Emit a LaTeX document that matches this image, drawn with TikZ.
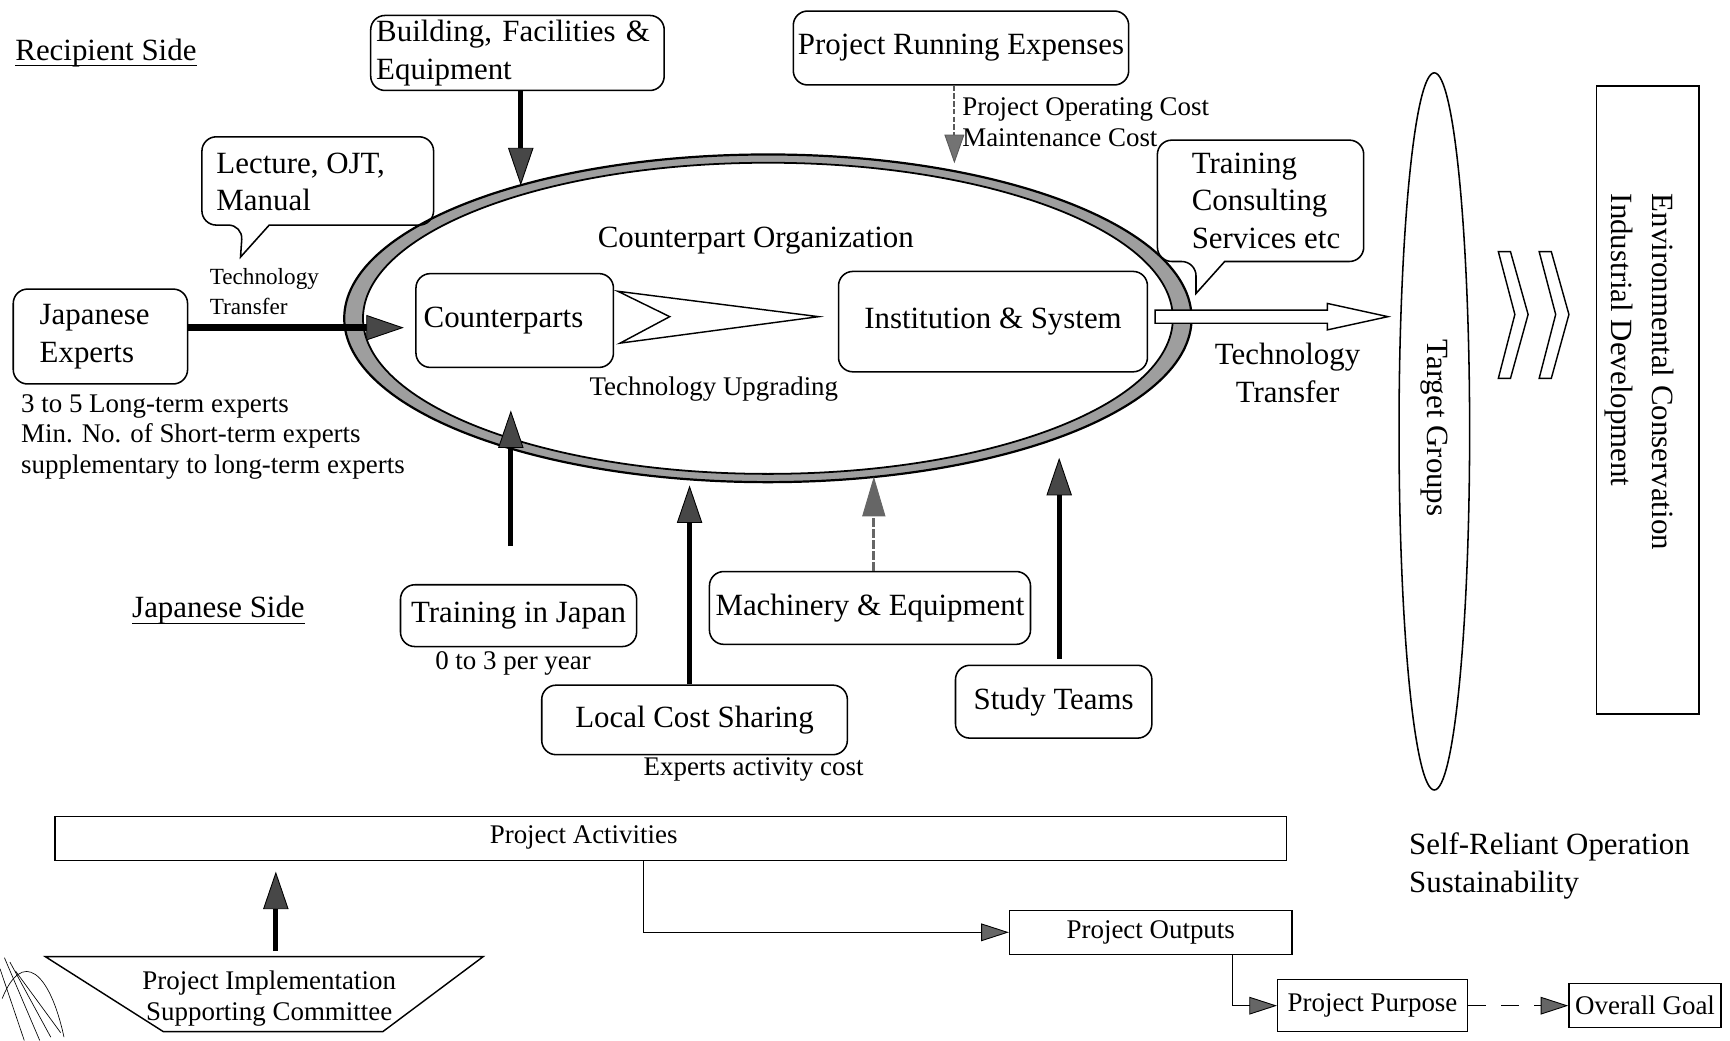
\documentclass[tikz,border=0pt]{standalone}
\usepackage{fontspec}
\setmainfont{Liberation Serif}
\usetikzlibrary{arrows.meta,shapes.geometric,calc}

\tikzset{
  big/.style={font=\fontsize{28}{34}\selectfont},
  small/.style={font=\fontsize{24.4}{28}\selectfont},
  tiny/.style={font=\fontsize{21}{27}\selectfont},
  txt/.style={inner sep=0pt},
  rbox/.style={draw, line width=1.4pt, rounded corners=13pt, inner sep=0pt, big},
  sqbox/.style={draw, line width=1.3pt, inner sep=0pt, small},
  headbig/.style={-{Triangle[length=34pt,width=23pt,line width=0.8pt,fill=black!72]}},
  thickarrow/.style={line width=4.5pt, headbig},
  smallhead/.style={-{Triangle[length=25pt,width=16pt,line width=0.8pt,fill=black!60]}},
  thinlink/.style={line width=1.2pt, smallhead},
  outline/.style={line width=1.4pt},
}

\begin{document}
\begin{tikzpicture}[x=1pt,y=-1pt]
\useasboundingbox (0,0) rectangle (1568,943);
\fill[white] (0,0) rectangle (1568,943);

% ---------- counterpart organization ring ----------
\fill[black!38, even odd rule]
  (696,288.5) ellipse [x radius=384pt, y radius=148.5pt]
  (696,288.5) ellipse [x radius=367pt, y radius=141pt];
\draw[line width=2pt] (696,288.5) ellipse [x radius=384pt, y radius=148.5pt];
\draw[line width=1.6pt] (696,288.5) ellipse [x radius=367pt, y radius=141pt];
\node[big, txt] (orgt) at (685,218) {Counterpart Organization};

% ---------- side headings ----------
\node[big, txt] (rs) at (96,48) {Recipient Side};
\draw[line width=1pt] ([yshift=-5pt]rs.base west) -- ([yshift=-5pt]rs.base east);
\node[big, txt] (js) at (198,553) {Japanese Side};
\draw[line width=1pt] ([yshift=-5pt]js.base west) -- ([yshift=-5pt]js.base east);

% ---------- recipient inputs ----------
\node[rbox, minimum width=266pt, minimum height=68pt, text width=256pt, align=left]
  (bfe) at (469,48) {Building, Facilities \&\\Equipment};
\coordinate (bfeT) at (472,168);
\draw[thickarrow] (bfe.south -| bfeT) -- (bfeT);

\node[rbox, minimum width=304pt, minimum height=67pt] (pre) at (871,43.5) {Project Running Expenses};
\coordinate (preT) at (865,148);
\draw[line width=1.8pt, black!65, dash pattern=on 5pt off 2pt,
  -{Triangle[length=26pt,width=18pt,line width=0.8pt,fill=black!55]}]
  (pre.south -| preT) -- (preT);
\node[small, txt, anchor=west, align=left] (poc) at (872,111) {Project Operating Cost\\Maintenance Cost};

% ---------- lecture callout ----------
\node[big, txt, align=left, anchor=west] (lec) at (196,165) {Lecture, OJT,\\Manual};
\draw[outline] (218,233) -- (244,204) [rounded corners=13pt] -- (393,204) -- (393,124)
  -- (183,124) -- (183,204) -- (220,204) [sharp corners] -- cycle;
\node[tiny, txt, align=left, anchor=west] (tt1) at (190,264) {Technology\\Transfer};

% ---------- japanese experts ----------
\node[rbox, minimum width=158pt, minimum height=86pt, text width=110pt, align=left] (je) at (91,305) {Japanese\\Experts};
\coordinate (jeT) at (366,297);
\draw[line width=6pt, headbig] (je.east |- jeT) -- (jeT);
\node[small, txt, align=left, anchor=west] (notes) at (19,396)
  {3 to 5 Long-term experts\\Min. No. of Short-term experts\\supplementary to long-term experts};

% ---------- inside the organization ----------
\node[rbox, minimum width=179pt, minimum height=85pt, text width=165pt, align=left]
  (cp) at (466.5,290.5) {Counterparts};
\node[rbox, minimum width=280pt, minimum height=91pt] (is) at (900,291.5) {Institution \& System};
\draw[line width=1.3pt, fill=white] (560,264) -- (742,287) -- (562,311) -- (607,287) -- cycle;
\node[small, txt] (upg) at (647,353) {Technology Upgrading};

% ---------- transfer to target groups ----------
\draw[line width=1.3pt, fill=white] (1047,281) -- (1203,281) -- (1203,275) -- (1258,287)
  -- (1203,299) -- (1203,293) -- (1047,293) -- cycle;
\node[big, txt, align=center] (tt2) at (1167,338) {Technology\\Transfer};

\node[big, txt, align=left, anchor=west] (tcs) at (1080,182) {Training\\Consulting\\Services etc};
\draw[outline] (1084,266) -- (1110,237) [rounded corners=13pt] -- (1236,237) -- (1236,127)
  -- (1049,127) -- (1049,237) -- (1084,237) [sharp corners] -- cycle;

\node[draw, ellipse, outline, minimum width=64pt, minimum height=650pt, inner sep=0pt] (tg) at (1300,391) {};
\node[big, txt, rotate=-90] (tgt) at (1300,388) {Target Groups};

\foreach \dx in {0,37}
  \draw[line width=1.3pt] ({1358+\dx},228) -- ({1369+\dx},228) -- ({1385+\dx},285)
    -- ({1369+\dx},343) -- ({1358+\dx},343) -- ({1373+\dx},285) -- cycle;

\node[draw, outline, minimum width=93pt, minimum height=569pt, inner sep=0pt] (env) at (1493.5,362.5) {};
\node[font=\fontsize{28}{37}\selectfont, txt, rotate=-90, align=left] (envt) at (1486,337)
  {Environmental Conservation\\Industrial Development};

% ---------- japanese inputs ----------
\node[rbox, minimum width=214pt, minimum height=56pt] (tij) at (470,558) {Training in Japan};
\node[small, txt] (tijn) at (465,601) {0 to 3 per year};
\coordinate (tijS) at (463,495);
\coordinate (tijT) at (463,372);
\draw[thickarrow] (tijS) -- (tijT);

\node[rbox, minimum width=291pt, minimum height=66pt] (mach) at (788.5,551) {Machinery \& Equipment};
\coordinate (machT) at (792,432);
\draw[line width=2.6pt, black!60, dash pattern=on 8pt off 2pt,
  -{Triangle[length=36pt,width=21pt,line width=0.8pt,fill=black!60]}]
  (mach.north -| machT) -- (machT);

\node[rbox, minimum width=277pt, minimum height=63pt] (lcs) at (629.5,652.5) {Local Cost Sharing};
\node[small, txt] (lcsn) at (683,697) {Experts activity cost};
\coordinate (lcsT) at (625,440);
\draw[thickarrow] (lcs.north -| lcsT) -- (lcsT);

\node[rbox, minimum width=178pt, minimum height=66pt] (st) at (955,636) {Study Teams};
\coordinate (stS) at (960,597);
\coordinate (stT) at (960,415);
\draw[thickarrow] (stS) -- (stT);

% ---------- project chain ----------
\node[sqbox, minimum width=1116pt, minimum height=40pt] (pa) at (608,760) {};
\node[small, txt] (pat) at (529,759) {Project Activities};

\draw[line width=1.3pt] (41,867) -- (438,867) -- (347,935) -- (148,935) -- cycle;
\node[small, txt, align=center] (pisc) at (244,905) {Project Implementation\\Supporting Committee};
\coordinate (piscS) at (250,862);
\coordinate (paT) at (250,790);
\draw[thickarrow] (piscS) -- (paT);

\node[sqbox, minimum width=256pt, minimum height=40pt] (po) at (1043,845) {Project Outputs};
\coordinate (k1) at (583,780);
\draw[thinlink] (pa.south -| k1) |- (po.west);

\node[sqbox, minimum width=172pt, minimum height=47pt] (pp) at (1244,911.5) {Project Purpose};
\coordinate (k2) at (1117,865);
\draw[thinlink] (po.south -| k2) |- (pp.west);

\node[sqbox, minimum width=138pt, minimum height=40pt] (og) at (1491,911.5) {Overall Goal};
\draw[thinlink, dash pattern=on 16pt off 14pt] (pp.east) -- (og.west);

\node[big, txt, align=left, anchor=west] (sro) at (1277,785) {Self-Reliant Operation\\Sustainability};

% ---------- pen strokes in the lower left corner ----------
\begin{scope}[line width=0.6pt]
  \draw (0,878) -- (22,943);
  \draw (4,868) -- (36,943);
  \draw (9,872) -- (46,940);
  \draw (14,880) -- (55,936);
  \draw (2,905) .. controls (20,860) and (45,880) .. (58,940);
\end{scope}
\end{tikzpicture}
\end{document}
